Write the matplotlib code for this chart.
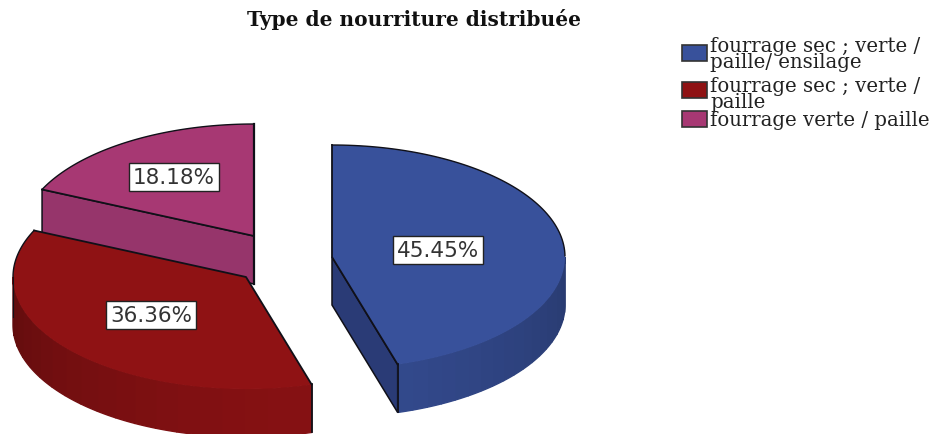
import numpy as np
import matplotlib
matplotlib.use("Agg")
import matplotlib.pyplot as plt
from matplotlib.patches import Polygon, Rectangle

title = "Type de nourriture distribuée"
categories = ["fourrage sec ; verte /\npaille/ ensilage", "fourrage sec ; verte /\npaille", "fourrage verte / paille"]
values = [45.45, 36.36, 18.18]
labels = ["45.45%", "36.36%", "18.18%"]
colors = ["#38519b", "#8f1214", "#a73873"]
side_colors = ["#2a3b76", "#7f0f11", "#96356b"]

RX, RY, DEPTH = 233, 112, 48
centers = [(332, 258), (246, 278), (254, 237)]
label_pos = [(438, 251), (151, 316), (174, 178)]
legend_y = [54, 91, 120]
legend_text_y = [55, 94, 120]

fig = plt.figure(figsize=(9.33, 4.35), dpi=100)
ax = fig.add_axes([0, 0, 1, 1])
ax.set_xlim(0, 933)
ax.set_ylim(435, 0)
ax.axis("off")


def pt(c, t, dz=0):
    return c[0] + RX * np.sin(t), c[1] - RY * np.cos(t) + dz


def shade(col, f):
    return tuple(min(1, v * f) for v in matplotlib.colors.to_rgb(col))


fr = np.cumsum([0] + values) / sum(values) * 2 * np.pi
LINE = "#101018"
for i in [2, 1, 0]:
    c = centers[i]
    t0, t1 = fr[i], fr[i + 1]
    ts = np.linspace(t0, t1, 120)
    zo = 3 - i
    # flat cut faces that look towards the viewer
    if i == 0:
        p = pt(c, t1)
        ax.add_patch(Polygon([c, p, (p[0], p[1] + DEPTH), (c[0], c[1] + DEPTH)],
                             fc=side_colors[0], ec=LINE, lw=1.1, zorder=zo))
    if i == 2:
        p = pt(c, t0)
        ax.add_patch(Polygon([c, p, (p[0], p[1] + DEPTH), (c[0], c[1] + DEPTH)],
                             fc=side_colors[2], ec=LINE, lw=1.1, zorder=1))
        ax.plot([c[0], c[0]], [c[1] - RY, c[1] + DEPTH], color=LINE, lw=1.6, zorder=1.8)
    # outer rim, shaded in facets
    rim = np.linspace(max(t0, np.pi / 2), min(t1, 3 * np.pi / 2), 20)
    if rim[-1] > rim[0]:
        n = len(rim) - 1
        for k, (a, b) in enumerate(zip(rim[:-1], rim[1:])):
            u = k / (n - 1)
            f = (0.72 + 0.18 * u) if i == 0 else (0.93 - 0.25 * u ** 1.5)
            col = shade(colors[i], f)
            aa = np.linspace(a, b, 6)
            up = [pt(c, x) for x in aa]
            dn = [pt(c, x, DEPTH) for x in aa[::-1]]
            ax.add_patch(Polygon(up + dn, fc=col, ec=col, lw=1.0, zorder=zo))
        q = pt(c, t1 if i == 0 else t0)
        ax.plot([q[0], q[0]], [q[1], q[1] + DEPTH], color=LINE, lw=1.3, zorder=zo + 0.3)
        if i == 1:
            l = pt(c, 3 * np.pi / 2)
            ax.plot([l[0], l[0]], [l[1], l[1] + DEPTH - 8], color=LINE, lw=0.8, zorder=zo + 0.3)
    # top face
    top = [c] + [pt(c, x) for x in ts]
    ax.add_patch(Polygon(top, closed=True, fc=colors[i], ec="none", zorder=zo + 0.2))
    ax.plot(*zip(*[pt(c, t0), c, pt(c, t1)]), color=LINE, lw=1.3, zorder=zo + 0.3)
    for part in ([x for x in ts if x < np.pi / 2], [x for x in ts if x > 3 * np.pi / 2]):
        if len(part) > 1:
            ax.plot(*zip(*[pt(c, x) for x in part]), color=LINE, lw=1.0, zorder=zo + 0.3)

for (x, y), s in zip(label_pos, labels):
    ax.text(x, y, s, ha="center", va="center", fontsize=15.5, family="DejaVu Sans",
            color="#333333", zorder=10,
            bbox=dict(boxstyle="square,pad=0.2", fc="white", ec="#222222", lw=1))

ax.text(414, 20, title, ha="center", va="center", fontsize=14.5, fontweight="bold",
        family="DejaVu Serif", color="#111111")

for y, ty, name, col in zip(legend_y, legend_text_y, categories, colors):
    ax.add_patch(Rectangle((682, y - 8), 25, 16, fc=col, ec="#333333", lw=1.2))
    ax.text(710, ty, name, ha="left", va="center", fontsize=14.2, family="DejaVu Serif",
            color="#222222", linespacing=0.8)

fig.savefig("out.png", dpi=100)
